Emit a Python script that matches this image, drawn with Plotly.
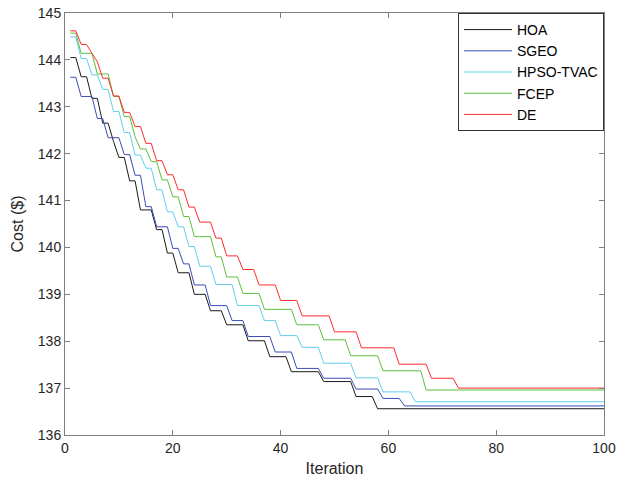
import plotly.graph_objects as go

# Step data: iteration at which each new best cost starts, and the cost level
hoa_start = [1, 3, 5, 7, 9, 10, 12, 14, 17, 19, 21, 24, 27, 30, 34, 38, 42, 48, 54, 58]
hoa_cost = [144.05, 143.64, 143.18, 142.65, 142.26, 141.92, 141.42, 140.80, 140.38, 139.88,
            139.46, 139.00, 138.65, 138.35, 138.01, 137.67, 137.35, 137.14, 136.82, 136.56]

sgeo_start = [1, 3, 6, 8, 11, 13, 15, 17, 20, 22, 24, 27, 31, 34, 39, 43, 48, 54, 59, 63]
sgeo_cost = [143.63, 143.22, 142.75, 142.34, 141.98, 141.54, 140.87, 140.44, 139.98, 139.65,
             139.20, 138.76, 138.44, 138.10, 137.77, 137.42, 137.21, 136.98, 136.78, 136.62]

hpso_start = [1, 3, 5, 7, 9, 11, 13, 15, 17, 19, 21, 23, 25, 28, 32, 37, 40, 44, 48, 54, 59, 65]
hpso_cost = [144.49, 144.03, 143.68, 143.37, 142.90, 142.45, 141.97, 141.69, 141.23, 140.76, 140.44,
             140.02, 139.60, 139.21, 138.76, 138.44, 138.12, 137.87, 137.53, 137.22, 136.92, 136.71]

fcep_start = [1, 3, 6, 9, 11, 13, 14, 16, 18, 20, 22, 24, 28, 30, 33, 37, 43, 48, 53, 59, 67]
fcep_cost = [144.57, 144.14, 143.70, 143.22, 142.79, 142.36, 142.10, 141.83, 141.44, 141.08, 140.66,
             140.23, 139.80, 139.37, 139.02, 138.68, 138.35, 138.03, 137.69, 137.37, 136.96]

de_start = [1, 3, 5, 6, 7, 9, 11, 13, 15, 17, 19, 21, 23, 25, 28, 30, 33, 36, 40, 44, 50, 55, 62, 68, 73]
de_cost = [144.62, 144.33, 144.14, 143.96, 143.61, 143.23, 142.88, 142.58, 142.22, 141.85, 141.55,
           141.23, 140.86, 140.54, 140.20, 139.82, 139.53, 139.20, 138.87, 138.54, 138.20, 137.86,
           137.51, 137.21, 137.00]

n_iter = 100
x_ticks = [0, 20, 40, 60, 80, 100]
y_ticks = [136, 137, 138, 139, 140, 141, 142, 143, 144, 145]


def expand(starts, costs):
    out = []
    k = 0
    for it in range(1, n_iter + 1):
        while k + 1 < len(starts) and starts[k + 1] <= it:
            k += 1
        out.append(costs[k])
    return out


iters = list(range(1, n_iter + 1))
series = [
    ("HOA", hoa_start, hoa_cost, "#1a1a1a"),
    ("SGEO", sgeo_start, sgeo_cost, "#3b4cb8"),
    ("HPSO-TVAC", hpso_start, hpso_cost, "#62cfee"),
    ("FCEP", fcep_start, fcep_cost, "#5cbf3c"),
    ("DE", de_start, de_cost, "#ff2b2b"),
]

fig = go.Figure()
for name, s, c, col in series:
    fig.add_trace(go.Scatter(x=iters, y=expand(s, c), mode="lines", name=name,
                             line=dict(color=col, width=1)))

axis_common = dict(showline=True, linecolor="#808080", linewidth=1, mirror="ticks",
                   ticks="inside", ticklen=5, tickcolor="#808080", showgrid=False,
                   zeroline=False, automargin=False,
                   tickfont=dict(family="Liberation Sans, Arial, sans-serif", size=14, color="#262626"))

fig.update_layout(
    width=618, height=489,
    margin=dict(l=65, r=14, t=13, b=54),
    paper_bgcolor="white", plot_bgcolor="white",
    font=dict(family="Liberation Sans, Arial, sans-serif", color="#262626"),
    xaxis=dict(range=[0, 100], tickvals=x_ticks,
               title=dict(text="Iteration", font=dict(size=16), standoff=8), **axis_common),
    yaxis=dict(range=[136, 145], tickvals=y_ticks,
               title=dict(text="Cost ($)", font=dict(size=16), standoff=10), **axis_common),
    legend=dict(x=1, y=1, xanchor="right", yanchor="top", bgcolor="white",
                bordercolor="#333333", borderwidth=1,
                font=dict(size=14, color="#000000"), tracegroupgap=0,
                itemwidth=48),
    showlegend=True,
)

fig.write_html("out.html",
               config={"displayModeBar": False},
               post_script="document.body.style.margin='0';document.body.style.overflow='hidden';")
